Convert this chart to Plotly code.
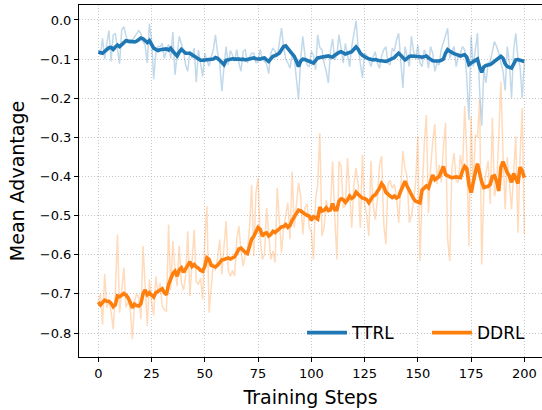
import plotly.graph_objects as go

steps = list(range(201))

ttrl_raw = [
    -0.082, -0.090, -0.047, -0.100, -0.060, -0.027, -0.106, -0.038, -0.035, -0.070,
    -0.112, -0.025, -0.017, -0.040, -0.058, -0.060, -0.051, -0.045, -0.035, -0.027,
    -0.035, -0.055, -0.065, -0.110, -0.010, -0.050, -0.151, -0.085, -0.068, -0.068,
    -0.060, -0.098, -0.080, -0.062, -0.098, -0.031, -0.140, -0.090, -0.042, -0.060,
    -0.080, -0.115, -0.131, -0.080, -0.098, -0.072, -0.159, -0.077, -0.110, -0.144,
    -0.085, -0.100, -0.118, -0.095, -0.076, -0.038, -0.085, -0.110, -0.182, -0.120,
    -0.068, -0.115, -0.078, -0.090, -0.106, -0.076, -0.110, -0.131, -0.080, -0.076,
    -0.110, -0.095, -0.085, -0.085, -0.110, -0.105, -0.076, -0.100, -0.106, -0.112,
    -0.137, -0.085, -0.072, -0.080, -0.095, -0.060, -0.021, -0.068, -0.100, -0.110,
    -0.123, -0.090, -0.098, -0.150, -0.203, -0.102, -0.042, -0.090, -0.115, -0.120,
    -0.080, -0.090, -0.127, -0.038, -0.070, -0.076, -0.110, -0.131, -0.161, -0.080,
    -0.048, -0.102, -0.090, -0.038, -0.080, -0.110, -0.060, -0.085, -0.119, -0.068,
    -0.040, -0.002, -0.072, -0.110, -0.148, -0.085, -0.090, -0.102, -0.119, -0.095,
    -0.081, -0.110, -0.123, -0.093, -0.076, -0.068, -0.110, -0.115, -0.072, -0.080,
    -0.051, -0.034, -0.100, -0.174, -0.068, -0.095, -0.119, -0.042, -0.080, -0.100,
    -0.064, -0.110, -0.119, -0.076, -0.090, -0.123, -0.068, -0.085, -0.131, -0.110,
    -0.115, -0.076, -0.060, -0.040, -0.021, -0.098, -0.080, -0.068, -0.119, -0.093,
    -0.085, -0.068, -0.076, -0.150, -0.255, -0.042, -0.119, -0.080, -0.034, -0.180,
    -0.270, -0.127, -0.160, -0.110, -0.106, -0.080, -0.055, -0.068, -0.085, -0.110,
    -0.131, -0.180, -0.068, -0.110, -0.199, -0.076, -0.034, -0.098, -0.119, -0.199,
    -0.110,
]

ttrl_smooth = [
    -0.082, -0.084, -0.085, -0.080, -0.075, -0.071, -0.070, -0.075, -0.069, -0.064,
    -0.068, -0.062, -0.057, -0.053, -0.054, -0.055, -0.057, -0.056, -0.054, -0.050,
    -0.046, -0.048, -0.052, -0.058, -0.053, -0.062, -0.072, -0.075, -0.078, -0.076,
    -0.075, -0.074, -0.074, -0.077, -0.072, -0.080, -0.088, -0.092, -0.082, -0.075,
    -0.080, -0.085, -0.085, -0.085, -0.089, -0.093, -0.097, -0.101, -0.103, -0.103,
    -0.102, -0.102, -0.101, -0.100, -0.100, -0.096, -0.098, -0.103, -0.110, -0.114,
    -0.103, -0.101, -0.099, -0.099, -0.100, -0.099, -0.100, -0.101, -0.100, -0.102,
    -0.101, -0.099, -0.098, -0.097, -0.099, -0.100, -0.100, -0.098, -0.097, -0.102,
    -0.106, -0.099, -0.093, -0.091, -0.089, -0.085, -0.076, -0.068, -0.066, -0.072,
    -0.081, -0.087, -0.093, -0.105, -0.119, -0.105, -0.100, -0.101, -0.103, -0.106,
    -0.108, -0.110, -0.104, -0.097, -0.096, -0.095, -0.094, -0.093, -0.092, -0.094,
    -0.095, -0.090, -0.085, -0.083, -0.081, -0.084, -0.087, -0.085, -0.083, -0.081,
    -0.075, -0.069, -0.075, -0.085, -0.090, -0.094, -0.097, -0.099, -0.101, -0.102,
    -0.101, -0.103, -0.104, -0.104, -0.105, -0.106, -0.104, -0.102, -0.100, -0.096,
    -0.090, -0.085, -0.090, -0.097, -0.102, -0.098, -0.093, -0.092, -0.092, -0.092,
    -0.093, -0.094, -0.095, -0.093, -0.092, -0.097, -0.102, -0.104, -0.105, -0.106,
    -0.105, -0.103, -0.100, -0.085, -0.076, -0.080, -0.084, -0.086, -0.088, -0.090,
    -0.092, -0.090, -0.089, -0.095, -0.114, -0.110, -0.106, -0.102, -0.100, -0.120,
    -0.134, -0.120, -0.116, -0.115, -0.114, -0.110, -0.106, -0.102, -0.097, -0.093,
    -0.098, -0.112, -0.119, -0.121, -0.123, -0.113, -0.102, -0.101, -0.102, -0.104,
    -0.106,
]

ddrl_raw = [
    -0.720, -0.700, -0.778, -0.649, -0.735, -0.720, -0.745, -0.790, -0.700, -0.548,
    -0.748, -0.690, -0.633, -0.735, -0.720, -0.740, -0.816, -0.720, -0.700, -0.710,
    -0.765, -0.578, -0.690, -0.782, -0.663, -0.720, -0.755, -0.655, -0.700, -0.672,
    -0.731, -0.740, -0.745, -0.523, -0.690, -0.565, -0.640, -0.680, -0.578, -0.670,
    -0.690, -0.655, -0.540, -0.706, -0.620, -0.536, -0.670, -0.675, -0.660, -0.714,
    -0.565, -0.476, -0.748, -0.680, -0.622, -0.640, -0.610, -0.561, -0.650, -0.580,
    -0.514, -0.640, -0.655, -0.640, -0.654, -0.560, -0.527, -0.590, -0.629, -0.600,
    -0.590, -0.530, -0.421, -0.603, -0.442, -0.404, -0.560, -0.612, -0.600, -0.480,
    -0.560, -0.612, -0.590, -0.620, -0.429, -0.520, -0.595, -0.530, -0.500, -0.467,
    -0.560, -0.387, -0.530, -0.480, -0.416, -0.450, -0.548, -0.480, -0.470, -0.530,
    -0.540, -0.612, -0.460, -0.420, -0.289, -0.552, -0.530, -0.460, -0.490, -0.480,
    -0.361, -0.500, -0.612, -0.361, -0.375, -0.480, -0.475, -0.353, -0.440, -0.531,
    -0.420, -0.378, -0.420, -0.531, -0.344, -0.470, -0.500, -0.552, -0.360, -0.470,
    -0.510, -0.460, -0.370, -0.348, -0.520, -0.574, -0.420, -0.410, -0.430, -0.420,
    -0.450, -0.518, -0.430, -0.335, -0.380, -0.400, -0.518, -0.500, -0.460, -0.415,
    -0.297, -0.616, -0.450, -0.320, -0.243, -0.493, -0.380, -0.310, -0.266, -0.420,
    -0.370, -0.415, -0.330, -0.263, -0.560, -0.616, -0.380, -0.340, -0.410, -0.415,
    -0.345, -0.390, -0.220, -0.340, -0.578, -0.246, -0.440, -0.294, -0.300, -0.204,
    -0.625, -0.440, -0.390, -0.360, -0.470, -0.250, -0.450, -0.420, -0.300, -0.158,
    -0.340, -0.484, -0.350, -0.420, -0.484, -0.390, -0.297, -0.544, -0.350, -0.225,
    -0.548,
]

ddrl_smooth = [
    -0.721, -0.728, -0.722, -0.716, -0.719, -0.719, -0.724, -0.733, -0.728, -0.705,
    -0.707, -0.703, -0.699, -0.703, -0.710, -0.722, -0.736, -0.726, -0.730, -0.731,
    -0.725, -0.700, -0.690, -0.702, -0.697, -0.703, -0.708, -0.697, -0.693, -0.689,
    -0.687, -0.697, -0.702, -0.676, -0.660, -0.648, -0.642, -0.655, -0.638, -0.633,
    -0.645, -0.636, -0.625, -0.618, -0.630, -0.625, -0.631, -0.634, -0.640, -0.642,
    -0.630, -0.608, -0.612, -0.627, -0.629, -0.631, -0.627, -0.621, -0.613, -0.612,
    -0.610, -0.608, -0.611, -0.609, -0.605, -0.596, -0.585, -0.583, -0.590, -0.594,
    -0.597, -0.575, -0.560, -0.553, -0.540, -0.530, -0.535, -0.552, -0.546, -0.544,
    -0.552, -0.548, -0.540, -0.543, -0.538, -0.532, -0.529, -0.528, -0.523, -0.530,
    -0.525, -0.512, -0.503, -0.497, -0.486, -0.488, -0.493, -0.496, -0.499, -0.501,
    -0.512, -0.503, -0.505, -0.509, -0.478, -0.488, -0.486, -0.480, -0.487, -0.485,
    -0.469, -0.485, -0.485, -0.463, -0.457, -0.459, -0.466, -0.460, -0.450, -0.456,
    -0.452, -0.440, -0.446, -0.451, -0.455, -0.456, -0.459, -0.467, -0.458, -0.450,
    -0.447, -0.440, -0.430, -0.418, -0.425, -0.440, -0.446, -0.450, -0.454, -0.450,
    -0.455, -0.452, -0.437, -0.422, -0.412, -0.425, -0.436, -0.450, -0.457, -0.463,
    -0.466, -0.467, -0.435, -0.428, -0.424, -0.429, -0.410, -0.396, -0.408, -0.405,
    -0.400, -0.388, -0.374, -0.395, -0.399, -0.401, -0.403, -0.401, -0.401, -0.402,
    -0.403, -0.385, -0.374, -0.380, -0.420, -0.441, -0.410, -0.390, -0.367, -0.395,
    -0.414, -0.428, -0.426, -0.425, -0.420, -0.400, -0.398, -0.412, -0.437, -0.376,
    -0.362, -0.378, -0.390, -0.399, -0.415, -0.392, -0.408, -0.418, -0.376, -0.385,
    -0.403,
]

x_ticks = [0, 25, 50, 75, 100, 125, 150, 175, 200]
y_ticks = [0.0, -0.1, -0.2, -0.3, -0.4, -0.5, -0.6, -0.7, -0.8]
y_ticktext = ["0.0", "\u22120.1", "\u22120.2", "\u22120.3", "\u22120.4",
              "\u22120.5", "\u22120.6", "\u22120.7", "\u22120.8"]

BLUE = "#1f77b4"
ORANGE = "#ff7f0e"

fig = go.Figure()
fig.add_trace(go.Scatter(x=steps, y=ttrl_raw, mode="lines",
                         line=dict(color="rgba(31,119,180,0.28)", width=1.5),
                         showlegend=False, hoverinfo="skip"))
fig.add_trace(go.Scatter(x=steps, y=ddrl_raw, mode="lines",
                         line=dict(color="rgba(255,127,14,0.28)", width=1.5),
                         showlegend=False, hoverinfo="skip"))
fig.add_trace(go.Scatter(x=steps, y=ttrl_smooth, mode="lines", name="TTRL",
                         line=dict(color=BLUE, width=3.6), legend="legend"))
fig.add_trace(go.Scatter(x=steps, y=ddrl_smooth, mode="lines", name="DDRL",
                         line=dict(color=ORANGE, width=3.6), legend="legend2"))

grid_color = "rgba(185,185,185,0.8)"
legend_common = dict(
    orientation="h", y=0.068, xanchor="left", yanchor="middle",
    bgcolor="rgba(0,0,0,0)", borderwidth=0, font=dict(size=17),
    itemwidth=40,
)
fig.update_layout(
    width=542, height=410,
    margin=dict(l=79, r=0, t=5, b=53),
    paper_bgcolor="white", plot_bgcolor="white",
    font=dict(family="DejaVu Sans", size=13, color="black"),
    xaxis=dict(
        range=[-9.06, 208.3], tickvals=x_ticks, ticktext=[str(v) for v in x_ticks],
        showline=True, linecolor="black", linewidth=1, mirror=True,
        ticks="outside", ticklen=4, tickwidth=1, tickcolor="black",
        showgrid=True, gridcolor=grid_color, griddash="1px,2px", gridwidth=1,
        zeroline=False, automargin=False,
        title=dict(text="Training Steps", font=dict(size=19), standoff=11),
    ),
    yaxis=dict(
        range=[-0.8613, 0.0383], tickvals=y_ticks, ticktext=y_ticktext,
        showline=True, linecolor="black", linewidth=1, mirror=False,
        ticks="outside", ticklen=4, tickwidth=1, tickcolor="black",
        showgrid=True, gridcolor=grid_color, griddash="1px,2px", gridwidth=1,
        zeroline=False, automargin=False,
        title=dict(text="Mean Advantage", font=dict(size=19), standoff=10),
    ),
    legend=dict(x=0.4816, **legend_common),
    legend2=dict(x=0.7516, **legend_common),
    showlegend=True,
)

fig.write_html("out.html")
